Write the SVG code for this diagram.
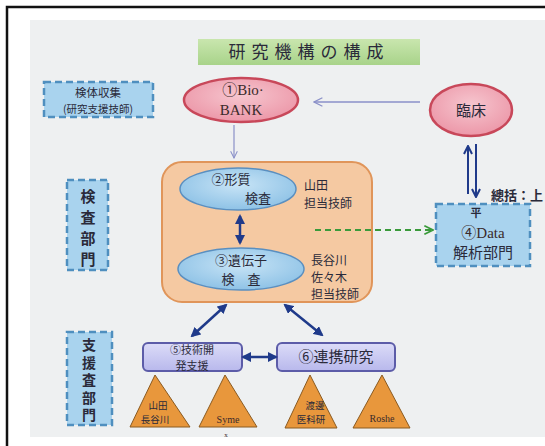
<svg xmlns="http://www.w3.org/2000/svg" width="545" height="446" viewBox="0 0 545 446">
<defs>
<style>
.jp{font-family:"Noto Sans CJK JP","Noto Sans",sans-serif;fill:#2a2a3a}
.sr{font-family:"Liberation Serif","Noto Sans CJK JP",serif;fill:#3a2a2a}
.vt{writing-mode:vertical-rl;font-weight:bold}
.dash{fill:#a9d3ee;stroke:#4f8fbf;stroke-width:2.5;stroke-dasharray:7 4}
.pink{fill:url(#pinkG);stroke:#c8485a;stroke-width:2.5}
.blue{fill:url(#blueG);stroke:#5a8fc0;stroke-width:1.5}
.lav{fill:url(#lavG);stroke:#5c5ca8;stroke-width:2}
.tri{fill:#e8973c;stroke:#8a5a20;stroke-width:1}
.nv{stroke:#1f3a8a;stroke-width:2.5;fill:none}
</style>
<radialGradient id="pinkG" cx="0.5" cy="0.4" r="0.6"><stop offset="0" stop-color="#f6c6cf"/><stop offset="1" stop-color="#ec97a8"/></radialGradient>
<radialGradient id="blueG" cx="0.5" cy="0.4" r="0.6"><stop offset="0" stop-color="#c8e4f6"/><stop offset="1" stop-color="#8ec2e6"/></radialGradient>
<linearGradient id="lavG" x1="0" y1="0" x2="0" y2="1"><stop offset="0" stop-color="#dcdcf8"/><stop offset="1" stop-color="#b8b8ec"/></linearGradient>
<linearGradient id="greenG" x1="0" y1="0" x2="0" y2="1"><stop offset="0" stop-color="#c9e6ae"/><stop offset="1" stop-color="#a8d38a"/></linearGradient>
<marker id="navy" viewBox="0 0 10 10" refX="8" refY="5" markerWidth="4" markerHeight="4" orient="auto-start-reverse"><path d="M0,0 L10,5 L0,10 z" fill="#1f3a8a"/></marker>
<marker id="thin" viewBox="0 0 10 10" refX="9" refY="5" markerWidth="7" markerHeight="7" orient="auto"><path d="M1,1 L9,5 L1,9" fill="none" stroke="#8a90c8" stroke-width="1.2"/></marker>
<marker id="open" viewBox="0 0 10 10" refX="9" refY="5" markerWidth="5" markerHeight="5" orient="auto-start-reverse"><path d="M1,1 L9,5 L1,9" fill="none" stroke="#1f3a8a" stroke-width="2"/></marker>
<marker id="green" viewBox="0 0 10 10" refX="9" refY="5" markerWidth="6" markerHeight="6" orient="auto"><path d="M1,1 L9,5 L1,9" fill="none" stroke="#3a9a3a" stroke-width="1.5"/></marker>
</defs>
<rect x="0" y="0" width="545" height="446" fill="#ffffff"/>
<rect x="30" y="20" width="515" height="417" fill="#eef0f1"/>
<path d="M7,446 V7 H545" fill="none" stroke="#111" stroke-width="2.5"/>

<g id="title">
<rect x="198" y="39" width="222" height="26" fill="url(#greenG)"/>
<text x="309" y="58" text-anchor="middle" class="jp" font-size="17" letter-spacing="6">研究機構の構成</text>
</g>

<g id="kentai">
<rect x="44" y="82" width="109" height="35" class="dash"/>
<text x="98" y="97" text-anchor="middle" class="jp" font-size="11.5">検体収集</text>
<text x="98" y="113" text-anchor="middle" class="jp" font-size="10.5">(研究支援技師)</text>
</g>

<g id="biobank">
<ellipse cx="241" cy="100" rx="57" ry="22" class="pink"/>
<text x="243" y="95" text-anchor="middle" class="sr" font-size="15">①Bio·</text>
<text x="241" y="115" text-anchor="middle" class="sr" font-size="15">BANK</text>
</g>

<g id="rinsho">
<ellipse cx="471" cy="110" rx="41" ry="26" class="pink"/>
<text x="471" y="116" text-anchor="middle" class="jp" font-size="15">臨床</text>
</g>

<g id="kensa-dept">
<rect x="67" y="180" width="41" height="90" class="dash"/>
<text x="88" y="189" class="jp vt" font-size="15" letter-spacing="6">検査部門</text>
</g>

<g id="core">
<rect x="162" y="162" width="210" height="140" rx="20" fill="#f5c9a2" stroke="#e0955a" stroke-width="2"/>
</g>

<g id="keishitsu">
<ellipse cx="238" cy="189" rx="58" ry="21" class="blue"/>
<text x="231" y="184" text-anchor="middle" class="jp" font-size="13">②形質</text>
<text x="258" y="203" text-anchor="middle" class="jp" font-size="13">検査</text>
<text x="304" y="190" class="jp" font-size="12">山田</text>
<text x="304" y="208" class="jp" font-size="12">担当技師</text>
</g>

<g id="idenshi">
<ellipse cx="241" cy="269" rx="63" ry="21" class="blue"/>
<text x="241" y="265" text-anchor="middle" class="jp" font-size="13">③遺伝子</text>
<text x="241" y="284" text-anchor="middle" class="jp" font-size="13">検　査</text>
<text x="311" y="265" class="jp" font-size="12">長谷川</text>
<text x="311" y="282" class="jp" font-size="12">佐々木</text>
<text x="311" y="299" class="jp" font-size="12">担当技師</text>
</g>

<g id="data">
<rect x="436" y="204" width="94" height="62" class="dash"/>
<text x="476" y="217" text-anchor="middle" class="jp" font-size="11" font-weight="bold">平</text>
<text x="483" y="238" text-anchor="middle" class="sr" font-size="15">④Data</text>
<text x="483" y="258" text-anchor="middle" class="jp" font-size="15">解析部門</text>
<text x="491" y="200" class="jp" font-size="13" font-weight="bold">總括：上</text>
</g>

<g id="shien-dept">
<rect x="67" y="332" width="45" height="93" class="dash"/>
<text x="89" y="338" class="jp vt" font-size="14" letter-spacing="3.5">支援査部門</text>
</g>

<g id="gijutsu">
<rect x="143" y="343" width="99" height="28" rx="5" class="lav"/>
<text x="192" y="354" text-anchor="middle" class="jp" font-size="11">⑤技術開</text>
<text x="192" y="370" text-anchor="middle" class="jp" font-size="11">発支援</text>
</g>

<g id="renkei">
<rect x="277" y="343" width="118" height="28" rx="5" class="lav"/>
<text x="336" y="362" text-anchor="middle" class="jp" font-size="15">⑥連携研究</text>
</g>

<g id="tri1">
<polygon points="155,375 130,427 190,427" class="tri"/>
<text x="158" y="409" text-anchor="middle" class="jp" font-size="9.5">山田</text>
<text x="155" y="423" text-anchor="middle" class="jp" font-size="9.5">長谷川</text>
</g>
<g id="tri2">
<polygon points="225,375 199,427 257,427" class="tri"/>
<text x="228" y="423" text-anchor="middle" class="sr" font-size="10">Syme</text>
</g>
<g id="tri3">
<polygon points="310,375 285,428 337,428" class="tri"/>
<text x="315" y="409" text-anchor="middle" class="jp" font-size="9.5">渡邊</text>
<text x="311" y="423" text-anchor="middle" class="jp" font-size="9.5">医科研</text>
</g>
<g id="tri4">
<polygon points="382,375 353,428 410,428" class="tri"/>
<text x="382" y="422" text-anchor="middle" class="sr" font-size="10">Roshe</text>
</g>
<text x="226" y="437" text-anchor="middle" class="sr" font-size="7">x</text>

<g id="connectors">
<line x1="420" y1="102" x2="314" y2="102" stroke="#8a90c8" stroke-width="1.5" marker-end="url(#thin)"/>
<line x1="234" y1="125" x2="234" y2="158" stroke="#8a90c8" stroke-width="1.2" marker-end="url(#thin)"/>
<line x1="468" y1="194" x2="468" y2="146" stroke="#1f3a8a" stroke-width="2" marker-end="url(#open)"/>
<line x1="476" y1="144" x2="476" y2="197" stroke="#1f3a8a" stroke-width="2" marker-end="url(#open)"/>
<line x1="240" y1="216" x2="240" y2="243" class="nv" marker-start="url(#navy)" marker-end="url(#navy)"/>
<line x1="315" y1="230" x2="433" y2="230" stroke="#3a9a3a" stroke-width="1.8" stroke-dasharray="6 4" marker-end="url(#green)"/>
<line x1="226" y1="305" x2="192" y2="336" class="nv" marker-start="url(#navy)" marker-end="url(#navy)"/>
<line x1="285" y1="305" x2="322" y2="335" class="nv" marker-start="url(#navy)" marker-end="url(#navy)"/>
<line x1="243" y1="357" x2="276" y2="357" class="nv" marker-start="url(#navy)" marker-end="url(#navy)"/>
</g>
</svg>
